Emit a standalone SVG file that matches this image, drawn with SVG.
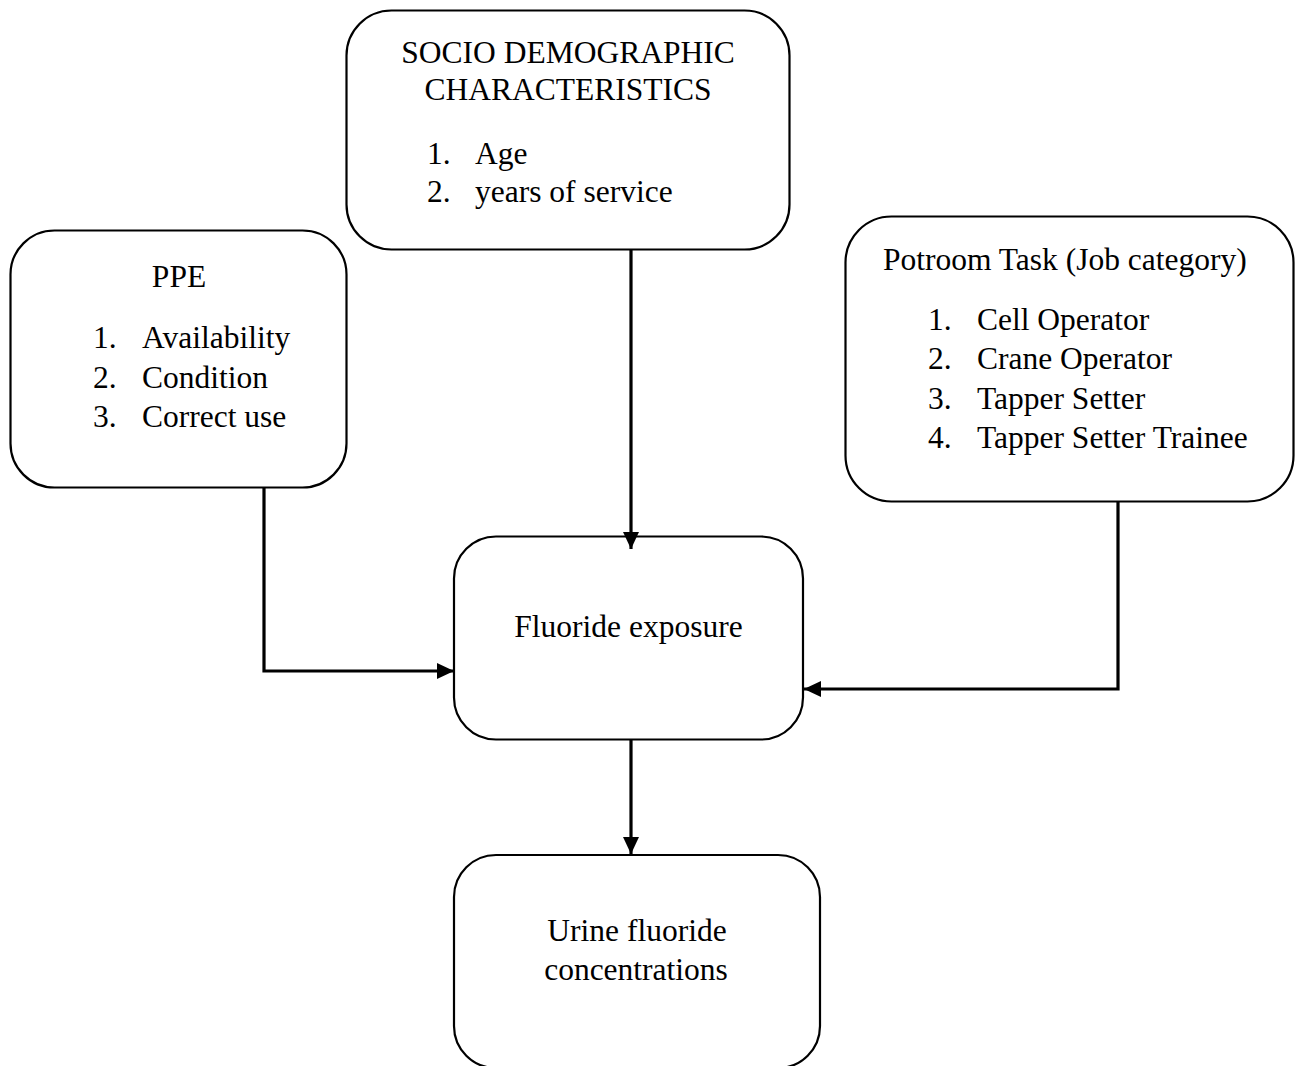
<svg xmlns="http://www.w3.org/2000/svg" width="1299" height="1066" viewBox="0 0 1299 1066">
<style>
.box{fill:#fff;stroke:#000;stroke-width:2.2}
.t{font-family:"Liberation Serif","Times New Roman",serif;font-size:31.5px;fill:#000}
.c{text-anchor:middle}
.conn{fill:none;stroke:#000;stroke-width:3.2}
</style>
<defs>
<marker id="ah" markerUnits="userSpaceOnUse" markerWidth="17" markerHeight="16" refX="17" refY="8" orient="auto">
<path d="M0,0 L17,8 L0,16 z" fill="#000"/>
</marker>
</defs>
<rect width="1299" height="1066" fill="#fff"/>
<g id="socio">
<rect class="box" x="346.5" y="10.5" width="443" height="239" rx="45"/>
<text class="t c" x="568" y="63">SOCIO DEMOGRAPHIC</text>
<text class="t c" x="568" y="100">CHARACTERISTICS</text>
<text class="t" x="427" y="164">1.</text><text class="t" x="475" y="164">Age</text>
<text class="t" x="427" y="202">2.</text><text class="t" x="475" y="202">years of service</text>
</g>
<g id="ppe">
<rect class="box" x="10.5" y="230.5" width="336" height="257" rx="44"/>
<text class="t c" x="179" y="287">PPE</text>
<text class="t" x="93" y="348">1.</text><text class="t" x="142" y="348">Availability</text>
<text class="t" x="93" y="387.5">2.</text><text class="t" x="142" y="387.5">Condition</text>
<text class="t" x="93" y="427">3.</text><text class="t" x="142" y="427">Correct use</text>
</g>
<g id="potroom">
<rect class="box" x="845.5" y="216.5" width="448" height="285" rx="46"/>
<text class="t" x="883" y="270">Potroom Task (Job category)</text>
<text class="t" x="928" y="330">1.</text><text class="t" x="977" y="330">Cell Operator</text>
<text class="t" x="928" y="369">2.</text><text class="t" x="977" y="369">Crane Operator</text>
<text class="t" x="928" y="409">3.</text><text class="t" x="977" y="409">Tapper Setter</text>
<text class="t" x="928" y="448">4.</text><text class="t" x="977" y="448">Tapper Setter Trainee</text>
</g>
<g id="fluoride">
<rect class="box" x="454" y="536.5" width="349" height="203" rx="42"/>
<text class="t c" x="628.5" y="637">Fluoride exposure</text>
</g>
<g id="urine">
<rect class="box" x="454" y="855" width="366" height="213" rx="42"/>
<text class="t c" x="637" y="940.5">Urine fluoride</text>
<text class="t c" x="636" y="980">concentrations</text>
</g>
<g id="connectors">
<path class="conn" d="M631,250 V549" marker-end="url(#ah)"/>
<path class="conn" d="M264,487 V671 H454" marker-end="url(#ah)"/>
<path class="conn" d="M1118,502 V689 H804" marker-end="url(#ah)"/>
<path class="conn" d="M631,740 V854" marker-end="url(#ah)"/>
</g>
</svg>
